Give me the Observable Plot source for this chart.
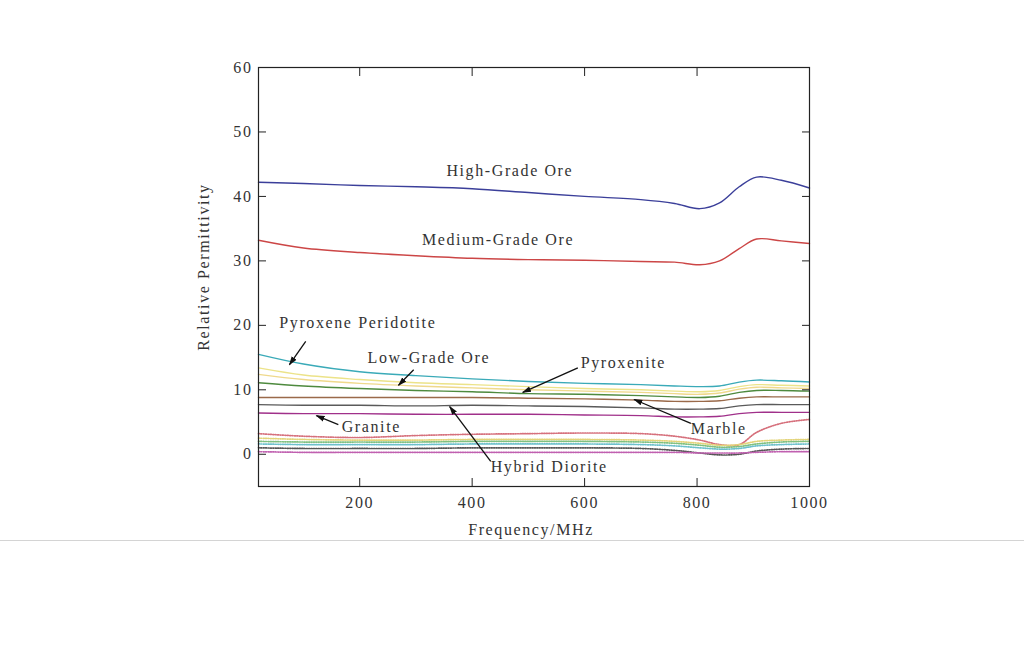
<!DOCTYPE html>
<html>
<head>
<meta charset="utf-8">
<script src="https://cdn.jsdelivr.net/npm/d3@7"></script>
<script src="https://cdn.jsdelivr.net/npm/@observablehq/plot@0.6"></script>
<style>
  html, body { margin: 0; padding: 0; background: #fff; }
  #chart svg { display: block; }
  .sep { width: 1024px; height: 1px; background: #d4d4d4; }
</style>
</head>
<body>
<div id="chart"></div>
<div class="sep"></div>
<script>
// ---- data ----
const freq = [20, 100, 200, 300, 400, 500, 600, 700, 760, 805, 840, 875, 906, 950, 1000];

const highGrade   = [42.2, 42.0, 41.7, 41.5, 41.2, 40.6, 40.0, 39.5, 38.9, 38.1, 39.0, 41.5, 43.0, 42.5, 41.3];
const mediumGrade = [33.2, 32.0, 31.3, 30.8, 30.4, 30.2, 30.1, 29.9, 29.8, 29.4, 30.0, 31.9, 33.4, 33.1, 32.7];

const peridotite  = [15.5, 14.0, 12.8, 12.2, 11.7, 11.3, 11.0, 10.8, 10.6, 10.5, 10.6, 11.2, 11.5, 11.4, 11.2];
const lowGrade    = [13.4, 12.3, 11.6, 11.1, 10.8, 10.5, 10.2, 10.0, 9.8, 9.7, 9.9, 10.5, 10.8, 10.7, 10.6];
const paleYellow  = [12.4, 11.6, 11.0, 10.6, 10.3, 10.0, 9.8, 9.6, 9.4, 9.3, 9.5, 10.1, 10.4, 10.3, 10.2];
const pyroxenite  = [11.1, 10.6, 10.2, 9.9, 9.7, 9.4, 9.3, 9.1, 8.9, 8.8, 9.0, 9.6, 9.9, 9.9, 9.8];
const marble      = [8.8, 8.8, 8.8, 8.8, 8.8, 8.7, 8.6, 8.4, 8.2, 8.2, 8.3, 8.7, 8.9, 8.9, 8.9];
const hybridDior  = [7.7, 7.6, 7.6, 7.5, 7.6, 7.5, 7.4, 7.2, 7.0, 7.0, 7.1, 7.5, 7.7, 7.7, 7.7];
const granite     = [6.4, 6.3, 6.3, 6.2, 6.2, 6.2, 6.1, 6.0, 5.8, 5.8, 5.9, 6.3, 6.5, 6.5, 6.5];

const dotRed      = [3.2, 2.8, 2.6, 2.9, 3.1, 3.2, 3.3, 3.2, 2.8, 2.2, 1.5, 1.5, 3.4, 4.8, 5.4];
const dotYellow   = [2.5, 2.3, 2.2, 2.2, 2.3, 2.3, 2.3, 2.2, 2.0, 1.7, 1.4, 1.5, 2.0, 2.2, 2.3];
const dotGreen    = [2.0, 1.9, 1.9, 1.9, 2.0, 2.0, 2.0, 1.9, 1.7, 1.4, 1.1, 1.2, 1.6, 1.9, 2.0];
const dotCyan     = [1.6, 1.5, 1.5, 1.5, 1.6, 1.6, 1.6, 1.5, 1.3, 1.0, 0.8, 0.9, 1.3, 1.5, 1.6];
const dotGray     = [1.0, 0.9, 0.9, 0.9, 1.0, 1.0, 1.0, 0.9, 0.6, 0.2, -0.1, 0.0, 0.5, 0.8, 0.9];
const dotPurple   = [0.4, 0.3, 0.3, 0.3, 0.3, 0.3, 0.3, 0.3, 0.3, 0.2, 0.2, 0.2, 0.3, 0.4, 0.4];

const seriesNames  = ["High-Grade Ore", "Medium-Grade Ore", "Pyroxene Peridotite", "Low-Grade Ore", "Pale", "Pyroxenite", "Marble", "Hybrid Diorite", "Granite"];
const seriesValues = [highGrade, mediumGrade, peridotite, lowGrade, paleYellow, pyroxenite, marble, hybridDior, granite];
const seriesColors = ["#3b3f9a", "#cc4646", "#3aaab8", "#ece389", "#efd98c", "#4e8a3e", "#9a6a4a", "#5a5a5a", "#a0308a"];

const dotNames  = ["d1", "d2", "d3", "d4", "d5", "d6"];
const dotValues = [dotRed, dotYellow, dotGreen, dotCyan, dotGray, dotPurple];
const dotColors = ["#d6707c", "#e3d47a", "#80c080", "#6cc0cc", "#555555", "#c060b0"];

const xTicks = [200, 400, 600, 800, 1000];
const yTicks = [0, 10, 20, 30, 40, 50, 60];

const labelText   = ["High-Grade Ore", "Medium-Grade Ore", "Pyroxene Peridotite", "Low-Grade Ore", "Pyroxenite", "Granite", "Marble", "Hybrid Diorite"];
const labelFreq   = [467, 446, 57, 323, 593, 168, 789, 433];
const labelValue  = [43.9, 33.2, 20.4, 15.0, 14.2, 4.2, 3.9, -2.0];
const labelAnchor = ["middle", "middle", "start", "middle", "start", "start", "start", "start"];

const arrowFrom  = [[104, 17.5], [296, 13.1], [588, 13.4], [162, 4.6], [789, 4.8], [433, -1.1]];
const arrowTo    = [[75, 13.9], [269, 10.7], [490, 9.6], [123, 6.0], [688, 8.5], [360, 7.4]];

// ---- build tables ----
const solid = seriesNames.flatMap((name, i) => freq.map((f, j) => ({name, f, v: seriesValues[i][j]})));
const dotted = dotNames.flatMap((name, i) => freq.map((f, j) => ({name, f, v: dotValues[i][j]})));
const labels = labelText.map((t, i) => ({t, f: labelFreq[i], v: labelValue[i], a: labelAnchor[i]}));
const arrows = arrowFrom.map((p, i) => ({x1: p[0], y1: p[1], x2: arrowTo[i][0], y2: arrowTo[i][1]}));

const font = "'Liberation Serif', 'DejaVu Serif', serif";
const colorDomain = [...seriesNames, ...dotNames];
const colorRange = [...seriesColors, ...dotColors];

// filled triangular arrow head
function filledHead(color, context) {
  const ns = "http://www.w3.org/2000/svg";
  const doc = (context && context.document) || document;
  const m = doc.createElementNS(ns, "marker");
  m.setAttribute("viewBox", "-5 -5 10 10");
  m.setAttribute("markerWidth", "7");
  m.setAttribute("markerHeight", "7");
  m.setAttribute("refX", "4");
  m.setAttribute("orient", "auto");
  m.setAttribute("fill", color);
  m.setAttribute("stroke", "none");
  const p = doc.createElementNS(ns, "path");
  p.setAttribute("d", "M-5,-3.2L5,0L-5,3.2Z");
  m.appendChild(p);
  return m;
}

const chart = Plot.plot({
  width: 1024,
  height: 540,
  marginLeft: 258,
  marginRight: 215,
  marginTop: 67,
  marginBottom: 54,
  style: {fontFamily: font, fontSize: "16px", color: "#222", background: "#fff", letterSpacing: "1.6px"},
  x: {domain: [20, 1000]},
  y: {domain: [-5, 60]},
  color: {domain: colorDomain, range: colorRange},
  marks: [
    Plot.line(dotted, {x: "f", y: "v", z: "name", stroke: "name", strokeWidth: 1.7, strokeDasharray: "1,1.4", curve: "catmull-rom"}),
    Plot.line(solid, {x: "f", y: "v", z: "name", stroke: "name", strokeWidth: 1.4, curve: "catmull-rom"}),
    Plot.frame({stroke: "#222", strokeWidth: 1.2}),
    Plot.axisX(xTicks.filter(d => d < 1000), {anchor: "bottom", tickSize: -8, tickFormat: () => "", label: null, stroke: "#222"}),
    Plot.axisX(xTicks, {anchor: "bottom", tickSize: 0, tickPadding: 10, label: null, fontSize: 16, fill: "#333", tickFormat: d => String(d)}),
    Plot.axisX(xTicks.filter(d => d < 1000), {anchor: "top", tickSize: -8, tickFormat: () => "", label: null, stroke: "#222"}),
    Plot.axisY(yTicks, {anchor: "left", tickSize: -8, tickFormat: () => "", label: null, stroke: "#222"}),
    Plot.axisY(yTicks, {anchor: "left", tickSize: 0, tickPadding: 6, label: null, fontSize: 16, fill: "#333"}),
    Plot.axisY(yTicks.filter(d => d > 0 && d < 60), {anchor: "right", tickSize: -8, tickFormat: () => "", label: null, stroke: "#222"}),
    Plot.text(["Relative Permittivity"], {frameAnchor: "left", textAnchor: "middle", rotate: -90, dx: -55, dy: -10, fontSize: 16, fill: "#333"}),
    Plot.text(["Frequency/MHz"], {frameAnchor: "bottom", textAnchor: "middle", dy: 48, dx: -3, fontSize: 16, fill: "#333"}),
    Plot.link(arrows, {x1: "x1", y1: "y1", x2: "x2", y2: "y2", stroke: "#111", strokeWidth: 1.3, markerEnd: filledHead}),
    Plot.text(labels.filter(d => d.a === "middle"), {x: "f", y: "v", text: "t", textAnchor: "middle", fontSize: 16, fill: "#333"}),
    Plot.text(labels.filter(d => d.a === "start"), {x: "f", y: "v", text: "t", textAnchor: "start", fontSize: 16, fill: "#333"})
  ]
});
document.getElementById("chart").appendChild(chart);
</script>
</body>
</html>
